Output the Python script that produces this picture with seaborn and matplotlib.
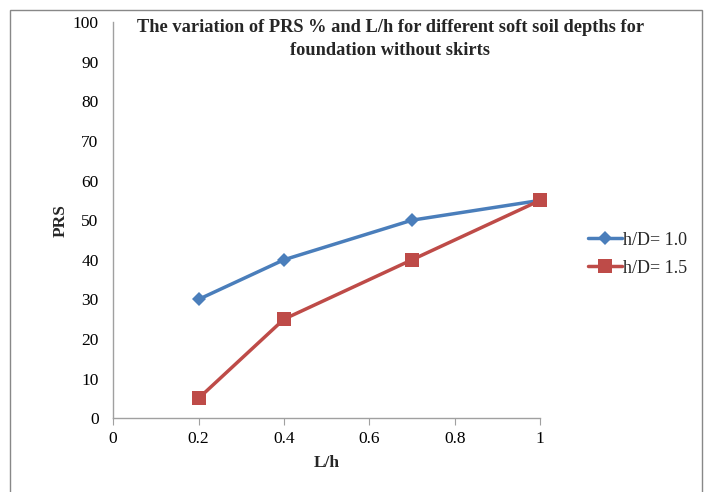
import matplotlib
matplotlib.use('Agg')
import pandas as pd
import seaborn as sns
import matplotlib.pyplot as plt
from matplotlib.patches import Rectangle

# data
lh = [0.2, 0.4, 0.7, 1.0]
prs_10 = [30, 40, 50, 55]
prs_15 = [5, 25, 40, 55]
series_names = ['h/D= 1.0', 'h/D= 1.5']

df = pd.concat([
    pd.DataFrame({'L/h': lh, 'PRS': prs_10, 'series': series_names[0]}),
    pd.DataFrame({'L/h': lh, 'PRS': prs_15, 'series': series_names[1]}),
])

sns.set_style('white')
plt.rcParams['font.family'] = ['Liberation Serif', 'DejaVu Serif']

fig = plt.figure(figsize=(7.07, 4.92), dpi=100)
ax = fig.add_axes([0.160, 0.150, 0.604, 0.805])

palette = {series_names[0]: '#4A7EBB', series_names[1]: '#BE4B48'}
sns.lineplot(data=df, x='L/h', y='PRS', hue='series', style='series',
             markers={series_names[0]: 'D', series_names[1]: 's'},
             dashes=False, palette=palette, linewidth=2.5,
             markersize=8, markeredgewidth=0, ax=ax)
for line in ax.get_lines():
    line.set_clip_on(False)
    if line.get_marker() == 's':
        line.set_markersize(10)
    elif line.get_marker() == 'D':
        line.set_markersize(7.5)

ax.set_xlim(0, 1)
ax.set_ylim(0, 100)
ax.set_xticks([0, 0.2, 0.4, 0.6, 0.8, 1])
ax.set_xticklabels(['0', '0.2', '0.4', '0.6', '0.8', '1'])
ax.set_yticks(range(0, 101, 10))
ax.tick_params(axis='both', labelsize=12.5, colors='black')
ax.tick_params(axis='x', bottom=True, direction='out', length=5,
               color='#a0a0a0', pad=4)
ax.tick_params(axis='y', left=False, pad=7)
for s in ['top', 'right']:
    ax.spines[s].set_visible(False)
for s in ['left', 'bottom']:
    ax.spines[s].set_color('#a0a0a0')
    ax.spines[s].set_linewidth(1)
ax.set_xlabel('L/h', fontsize=12.5, fontweight='bold', labelpad=6)
ax.set_ylabel('PRS', fontsize=12.5, fontweight='bold', labelpad=3)

ax.legend(handles=ax.get_legend_handles_labels()[0], labels=series_names,
          loc='center left', bbox_to_anchor=(1.073, 0.414), frameon=False,
          fontsize=13, handlelength=1.9, handletextpad=0.05, labelspacing=0.6)

fig.text(0.552, 0.945, 'The variation of PRS % and L/h for different soft soil depths for',
         ha='center', va='center', fontsize=13.2, fontweight='bold')
fig.text(0.552, 0.898, 'foundation without skirts',
         ha='center', va='center', fontsize=13.2, fontweight='bold')

fig.patches.append(Rectangle((0.014, -0.01), 0.979, 0.99, transform=fig.transFigure,
                             fill=False, edgecolor='#888888', linewidth=1))

fig.savefig('out.png', dpi=100)
